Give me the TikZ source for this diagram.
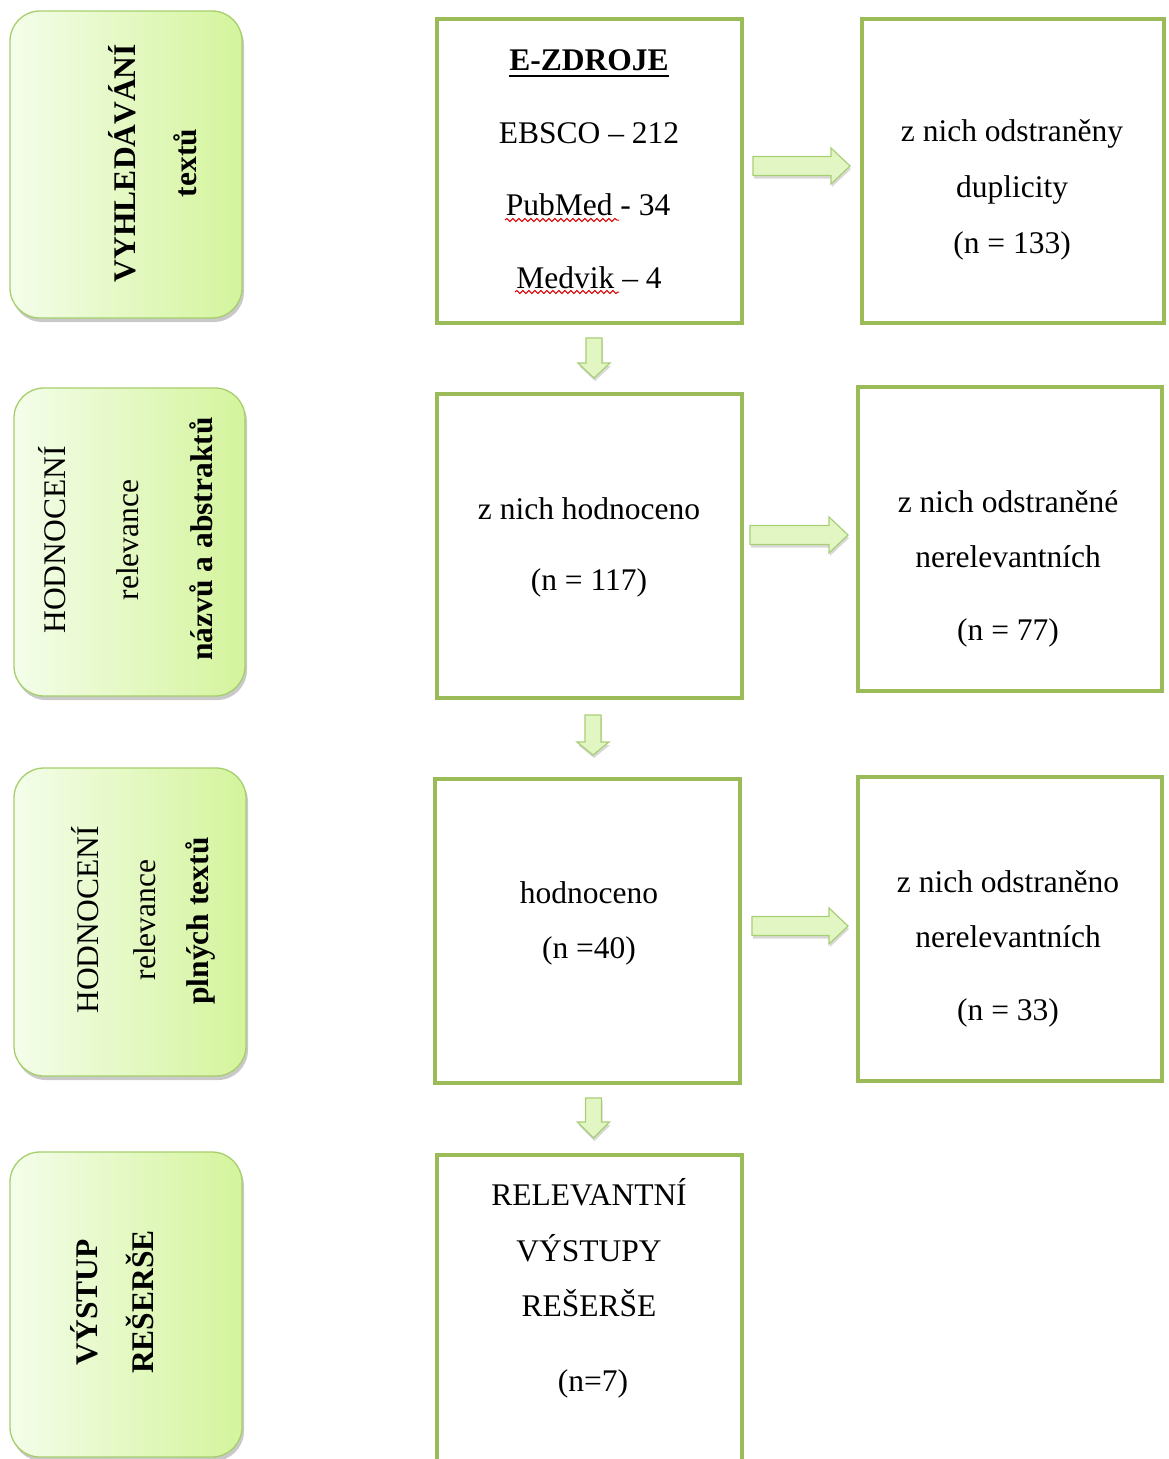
\documentclass[tikz,border=0pt]{standalone}
\usepackage{fontspec}
\setmainfont{Liberation Serif}
\usetikzlibrary{shadows,decorations.pathmorphing}
\definecolor{boxgreen}{HTML}{9BBB59}
\definecolor{leftborder}{HTML}{A6CF6C}
\definecolor{leftL}{HTML}{F4FDEA}
\definecolor{leftR}{HTML}{D4F49C}
\definecolor{arrfill}{HTML}{E2F6C4}
\definecolor{arrdraw}{HTML}{A9CF76}
\newcommand{\myRarrow}[4]{% x0, x1, tip, yc
  \path[blockarrow] (#1,#4-9.5) -- (#2,#4-9.5) -- (#2,#4-18) -- (#3,#4) -- (#2,#4+18) -- (#2,#4+9.5) -- (#1,#4+9.5) -- cycle;}
\newcommand{\myDarrow}[4]{% y0, y1, tip, xc
  \path[blockarrow] (#4-8,#1) -- (#4+8,#1) -- (#4+8,#2) -- (#4+16,#2) -- (#4,#3) -- (#4-16,#2) -- (#4-8,#2) -- cycle;}
\begin{document}
\begin{tikzpicture}[x=1pt,y=-1pt,
  leftbox/.style={draw=leftborder, line width=1.3pt, rounded corners=30pt,
    left color=leftL, right color=leftR,
    drop shadow={shadow xshift=2pt, shadow yshift=-4pt, opacity=0.35, fill=black!60},
    inner sep=0pt},
  greenbox/.style={draw=boxgreen, line width=4pt, fill=white, inner sep=0pt},
  txt/.style={font=\fontsize{31.5}{38}\selectfont, inner sep=0pt, anchor=base},
  btxt/.style={txt, font=\fontsize{31.5}{38}\selectfont\bfseries},
  vtxt/.style={txt, rotate=90},
  vbtxt/.style={btxt, rotate=90},
  blockarrow/.style={draw=arrdraw, line width=1.2pt, fill=arrfill, line join=miter,
    drop shadow={shadow xshift=1pt, shadow yshift=-3pt, opacity=0.3, fill=black!50}},
  wavy/.style={draw=red!85!black, line width=1pt, decorate,
    decoration={snake, amplitude=1.6pt, segment length=6pt}}
]
\useasboundingbox (0,0) rectangle (1168,1459);
\clip (0,0) rectangle (1168,1459);
\fill[white] (0,0) rectangle (1168,1459);

% left rounded boxes
\node[leftbox, minimum width=232, minimum height=307] (L1) at (126,164.5) {};
\node[leftbox, minimum width=231, minimum height=308] (L2) at (129.5,542) {};
\node[leftbox, minimum width=232, minimum height=308] (L3) at (130,922) {};
\node[leftbox, minimum width=232, minimum height=305] (L4) at (126,1304.5) {};

\node[vbtxt] (l1a) at (135,163) {VYHLEDÁVÁNÍ};
\node[vbtxt] (l1b) at (196,163) {textů};

\node[vtxt] (l2a) at (65,540) {HODNOCENÍ};
\node[vtxt] (l2b) at (138,540) {relevance};
\node[vbtxt] (l2c) at (212,539) {názvů a abstraktů};

\node[vtxt] (l3a) at (98,920) {HODNOCENÍ};
\node[vtxt] (l3b) at (155,920) {relevance};
\node[vbtxt] (l3c) at (208,921) {plných textů};

\node[vbtxt] (l4a) at (97,1302) {VÝSTUP};
\node[vbtxt] (l4b) at (153,1302) {REŠERŠE};

% middle boxes
\node[greenbox, minimum width=305, minimum height=304] (M1) at (589.5,171) {};
\node[greenbox, minimum width=305, minimum height=304] (M2) at (589.5,546) {};
\node[greenbox, minimum width=305, minimum height=304] (M3) at (587.5,931) {};
\node[greenbox, minimum width=305, minimum height=330] (M4) at (589.5,1320) {};

% right boxes
\node[greenbox, minimum width=302, minimum height=304] (R1) at (1013,171) {};
\node[greenbox, minimum width=304, minimum height=304] (R2) at (1010,539) {};
\node[greenbox, minimum width=304, minimum height=304] (R3) at (1010,929) {};

% texts middle 1
\node[btxt] (ez) at (589,70) {E-ZDROJE};
\draw[line width=1.8pt] ([yshift=-6pt]ez.base west) -- ([yshift=-6pt]ez.base east);
\node[txt] (eb) at (589,143) {EBSCO – 212};
\node[txt] (pm) at (588,215) {PubMed - 34};
\node[txt] (mv) at (589,288) {Medvik – 4};
\draw[wavy] (505,220) -- (619,220);
\draw[wavy] (515,292) -- (619,292);

% right 1
\node[txt] (r1a) at (1012,141) {z nich odstraněny};
\node[txt] (r1b) at (1012,197) {duplicity};
\node[txt] (r1c) at (1012,253) {(n = 133)};

% middle 2
\node[txt] (m2a) at (589,519) {z nich hodnoceno};
\node[txt] (m2b) at (589,590) {(n = 117)};

% right 2
\node[txt] (r2a) at (1008,512) {z nich odstraněné};
\node[txt] (r2b) at (1008,567) {nerelevantních};
\node[txt] (r2c) at (1008,640) {(n = 77)};

% middle 3
\node[txt] (m3a) at (589,903) {hodnoceno};
\node[txt] (m3b) at (589,958) {(n =40)};

% right 3
\node[txt] (r3a) at (1008,892) {z nich odstraněno};
\node[txt] (r3b) at (1008,947) {nerelevantních};
\node[txt] (r3c) at (1008,1020) {(n = 33)};

% middle 4
\node[txt] (m4a) at (589,1205) {RELEVANTNÍ};
\node[txt] (m4b) at (589,1261) {VÝSTUPY};
\node[txt] (m4c) at (589,1316) {REŠERŠE};
\node[txt] (m4d) at (593,1391) {(n=7)};

% arrows
\myRarrow{753}{831}{850}{166}
\myRarrow{750}{829}{848}{535}
\myRarrow{752}{829}{848}{926}
\myDarrow{338}{363}{378}{594}
\myDarrow{715}{742}{755}{593}
\myDarrow{1098}{1122}{1138}{593.5}
\end{tikzpicture}
\end{document}
